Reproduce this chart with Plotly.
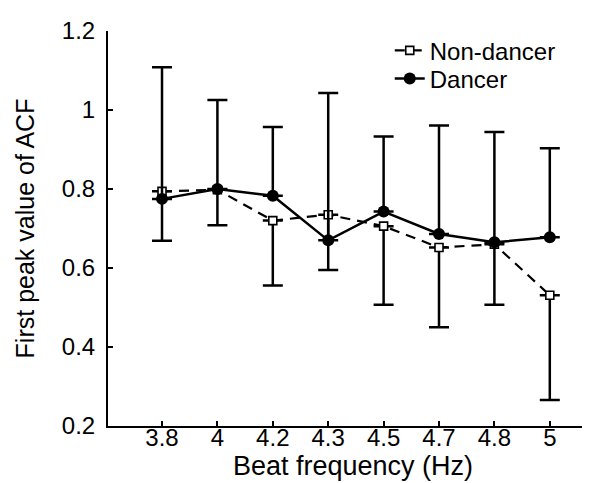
import plotly.graph_objects as go

# Data
beat_freq = ["3.8", "4", "4.2", "4.3", "4.5", "4.7", "4.8", "5"]
dancer_mean = [0.775, 0.800, 0.783, 0.670, 0.743, 0.686, 0.665, 0.678]
dancer_sd = [0.333, 0.225, 0.174, 0.373, 0.190, 0.275, 0.279, 0.225]
nondancer_mean = [0.794, 0.798, 0.720, 0.735, 0.706, 0.652, 0.660, 0.531]
nondancer_sd = [0.125, 0.090, 0.164, 0.140, 0.199, 0.202, 0.153, 0.265]
y_ticks = [0.2, 0.4, 0.6, 0.8, 1.0, 1.2]
y_ticktext = ["0.2", "0.4", "0.6", "0.8", "1", "1.2"]

xpos = list(range(len(beat_freq)))
FONT = "Arial, Liberation Sans, Helvetica, sans-serif"

fig = go.Figure()

fig.add_trace(go.Scatter(
    x=xpos, y=nondancer_mean, name="Non-dancer", mode="lines+markers",
    line=dict(color="black", width=2.2, dash="10px,7px"),
    marker=dict(symbol="square", size=8, color="white",
                line=dict(color="black", width=1.6)),
    error_y=dict(type="data", symmetric=False, array=[0] * len(nondancer_sd),
                 arrayminus=nondancer_sd, color="black", thickness=2.5, width=10),
    legend="legend",
))

fig.add_trace(go.Scatter(
    x=xpos, y=dancer_mean, name="Dancer", mode="lines+markers",
    line=dict(color="black", width=2.5),
    marker=dict(symbol="circle", size=12, color="black"),
    error_y=dict(type="data", symmetric=False, array=dancer_sd,
                 arrayminus=[0] * len(dancer_sd), color="black", thickness=2.5, width=10),
    legend="legend2",
))

legend_common = dict(xanchor="left", yanchor="middle", bgcolor="rgba(0,0,0,0)",
                     font=dict(size=24, family=FONT), itemwidth=30)

fig.update_layout(
    width=590, height=483,
    margin=dict(l=100, r=0, t=23, b=65),
    paper_bgcolor="white", plot_bgcolor="white",
    font=dict(family=FONT, color="black", size=24),
    showlegend=True,
    legend=dict(x=0.575, y=0.950, **legend_common),
    legend2=dict(x=0.575, y=0.879, **legend_common),
    xaxis=dict(
        range=[-0.975, 7.87], tickmode="array", tickvals=xpos, ticktext=beat_freq,
        showline=True, linecolor="black", linewidth=2, ticks="inside",
        ticklen=5, tickwidth=2, tickcolor="black", showgrid=False, zeroline=False,
        tickfont=dict(size=24), ticklabelstandoff=-11,
        title=dict(text="Beat frequency (Hz)", font=dict(size=27), standoff=4),
    ),
    yaxis=dict(
        range=[0.2, 1.2], tickmode="array", tickvals=y_ticks, ticktext=y_ticktext,
        showline=True, linecolor="black", linewidth=2, ticks="inside",
        ticklen=5, tickwidth=2, tickcolor="black", showgrid=False, zeroline=False,
        tickfont=dict(size=24), ticklabelstandoff=6,
        title=dict(text="First peak value of ACF", font=dict(size=25), standoff=20),
    ),
)

fig.write_html("out.html")
